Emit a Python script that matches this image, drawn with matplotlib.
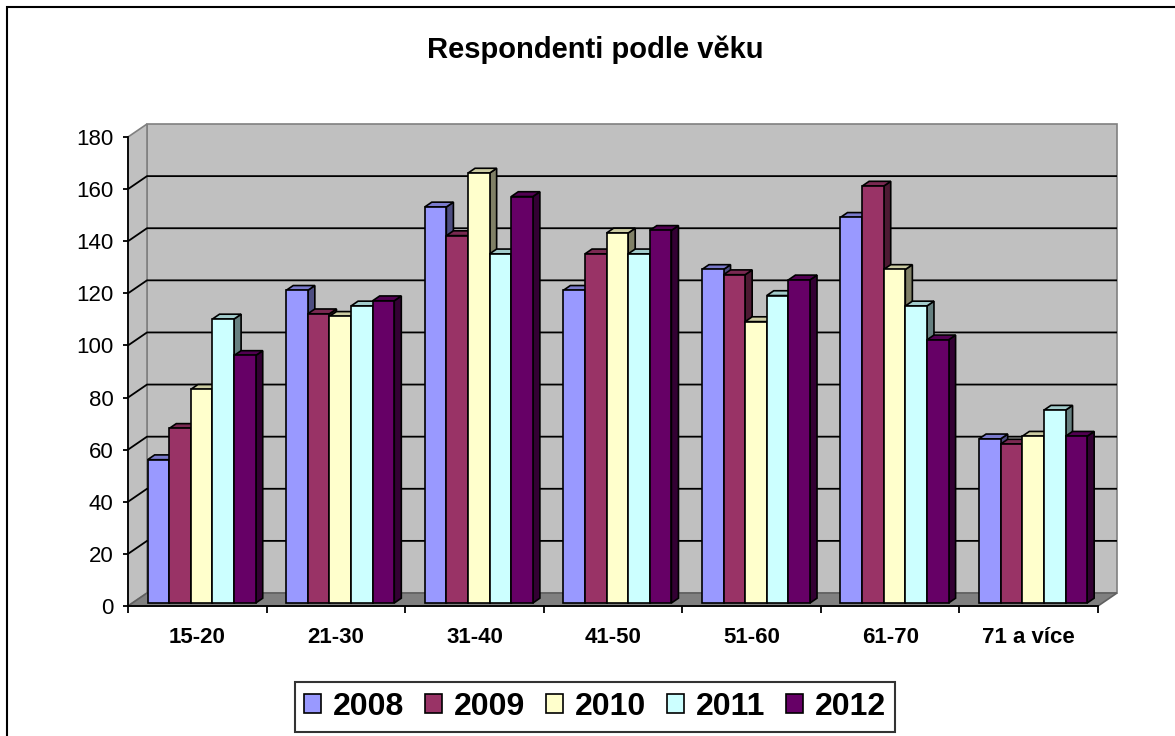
import numpy as np
import matplotlib
matplotlib.use("Agg")
import matplotlib.pyplot as plt
from matplotlib.patches import Polygon, Rectangle, Patch

plt.rcParams['font.family'] = ['Liberation Sans', 'DejaVu Sans']

# data
categories = ['15-20', '21-30', '31-40', '41-50', '51-60', '61-70', '71 a více']
years = ['2008', '2009', '2010', '2011', '2012']
v2008 = [55, 120, 152, 120, 128, 148, 63]
v2009 = [67, 111, 141, 134, 126, 160, 61]
v2010 = [82, 110, 165, 142, 108, 128, 64]
v2011 = [109, 114, 134, 134, 118, 114, 74]
v2012 = [95, 116, 156, 143, 124, 101, 64]
yticks = list(range(0, 181, 20))

series = [v2008, v2009, v2010, v2011, v2012]
colors = ['#9999FF', '#993366', '#FFFFCC', '#CCFFFF', '#660066']

W, H = 1175, 736
fig = plt.figure(figsize=(W / 100, H / 100), dpi=100)

# front frame of the plot in pixels
fl, fr, ft, fb = 128, 1098, 137, 606
ax = fig.add_axes([fl / W, (H - fb) / H, (fr - fl) / W, (fb - ft) / H])
ax.set_facecolor('none')
ncat = len(categories)
ymax = 180
ax.set_xlim(0, ncat)
ax.set_ylim(0, ymax)

pxx = (fr - fl) / ncat
pxy = (fb - ft) / ymax
# depth of the 3d box (data units)
wdx = 19 / pxx
wdy = 13 / pxy

wall_c = '#C0C0C0'
edge_c = '#808080'

# back wall
ax.add_patch(Polygon([(wdx, wdy), (ncat + wdx, wdy), (ncat + wdx, ymax + wdy), (wdx, ymax + wdy)],
                     closed=True, fc=wall_c, ec=edge_c, lw=1.2, clip_on=False, zorder=0.5))
# left wall
ax.add_patch(Polygon([(0, 0), (wdx, wdy), (wdx, ymax + wdy), (0, ymax)],
                     closed=True, fc=wall_c, ec=edge_c, lw=1.2, clip_on=False, zorder=0.5))
# floor
ax.add_patch(Polygon([(0, 0), (ncat, 0), (ncat + wdx, wdy), (wdx, wdy)],
                     closed=True, fc='#808080', ec='#606060', lw=1.2, clip_on=False, zorder=0.6))
# gridlines on walls
for t in yticks[1:-1]:
    ax.plot([0, wdx, ncat + wdx], [t, t + wdy, t + wdy], color='black', lw=1.3,
            clip_on=False, zorder=0.7, solid_capstyle='butt')

# bars
f0 = 0.23
bdx, bdy = 0.37 * wdx, 0.37 * wdy
bw = 0.156
gstart = 0.5 - bw * len(series) / 2


def shade(c, k):
    rgb = np.array(matplotlib.colors.to_rgb(c))
    return tuple(rgb * k)


for i, vals in enumerate(series):
    for j, h in enumerate(vals):
        x0 = j + gstart + i * bw + f0 * wdx
        b0 = f0 * wdy
        z = 2 + i * 0.1
        side = [(x0 + bw, b0), (x0 + bw, b0 + h), (x0 + bw + bdx, b0 + h + bdy), (x0 + bw + bdx, b0 + bdy)]
        top = [(x0, b0 + h), (x0 + bw, b0 + h), (x0 + bw + bdx, b0 + h + bdy), (x0 + bdx, b0 + h + bdy)]
        ax.add_patch(Polygon(side, closed=True, fc=shade(colors[i], 0.5), ec='black', lw=1.2,
                             clip_on=False, zorder=z))
        ax.add_patch(Polygon(top, closed=True, fc=shade(colors[i], 0.8), ec='black', lw=1.2,
                             clip_on=False, zorder=z + 0.01))
        ax.bar(x0, h, width=bw, bottom=b0, align='edge', color=colors[i], edgecolor='black',
               lw=1.2, zorder=z + 0.02, clip_on=False)

# axes
for s in ['top', 'right']:
    ax.spines[s].set_visible(False)
for s in ['left', 'bottom']:
    ax.spines[s].set_linewidth(1.3)
    ax.spines[s].set_zorder(5)
ax.set_yticks(yticks)
ax.tick_params(axis='y', direction='out', length=3.6, width=1.3, pad=7, labelsize=16)
ax.set_xticks(np.arange(ncat + 1))
ax.set_xticklabels([])
ax.tick_params(axis='x', which='major', direction='out', length=5, width=1.3)
ax.set_xticks(np.arange(ncat) + 0.5, minor=True)
ax.set_xticklabels(categories, minor=True, fontsize=16, fontweight='bold')
ax.tick_params(axis='x', which='minor', length=0, pad=15)

fig.text(595 / W, 1 - 50 / H, 'Respondenti podle věku', ha='center', va='center',
         fontsize=21, fontweight='bold')

handles = [Patch(facecolor=c, edgecolor='black', lw=1.2) for c in colors]
leg = fig.legend(handles, years, loc='center', bbox_to_anchor=(595 / W, 1 - 707 / H), ncol=5,
                 prop={'size': 23, 'weight': 'bold'}, frameon=True, fancybox=False,
                 edgecolor='black', handlelength=0.53, handleheight=0.53, handletextpad=0.37,
                 columnspacing=0.65, borderpad=0.3, borderaxespad=0)
leg.get_frame().set_linewidth(1.5)

# outer chart border
fig.add_artist(Rectangle((7 / W, -0.1), 1.2, 1.1 - 7 / H, transform=fig.transFigure,
                         fill=False, ec='black', lw=1.5))

fig.savefig('out.png', dpi=100)
